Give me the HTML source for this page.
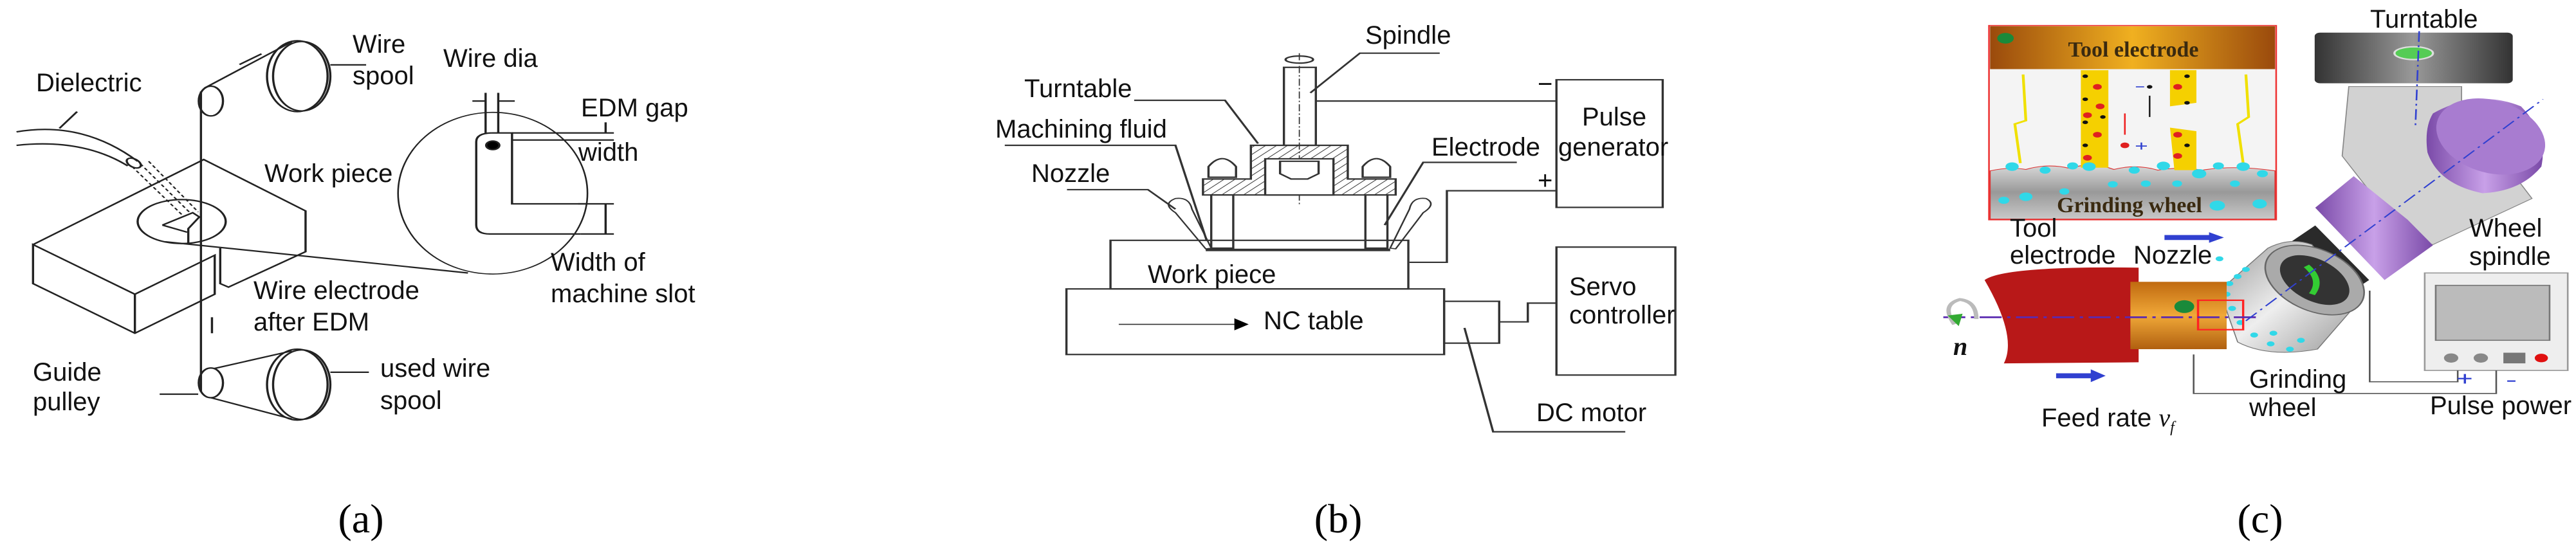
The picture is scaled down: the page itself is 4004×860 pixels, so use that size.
<!DOCTYPE html>
<html><head><meta charset="utf-8"><style>
html,body{margin:0;padding:0;background:#fff;}
#c{position:relative;width:4004px;height:860px;overflow:hidden;background:#fff;}
svg.p{position:absolute;top:0;}
.t{position:absolute;font-family:"Liberation Sans",sans-serif;font-size:40px;line-height:42px;color:#111;white-space:nowrap;}
.cap{position:absolute;font-family:"Liberation Serif",serif;font-size:64px;line-height:70px;color:#000;width:200px;text-align:center;}
.ins{position:absolute;font-family:"Liberation Serif",serif;font-weight:bold;font-size:34px;line-height:36px;color:#3a2a10;white-space:nowrap;transform:translateX(-50%);}
</style></head><body><div id="c">

<!-- Panel A -->
<svg class="p" style="left:0" width="1335" height="860" viewBox="0 0 1560 1560" preserveAspectRatio="none">
<g fill="none" stroke="#222" stroke-width="4">
<path d="M30,372 Q150,340 250,455"/><path d="M30,410 Q150,390 232,468"/>
<ellipse cx="243" cy="460" rx="10" ry="16" transform="rotate(-40 243 460)"/>
<path d="M108,362 L140,315"/>
<path d="M255,462 L345,600 M270,455 L360,598 M240,470 L330,605" stroke-dasharray="8,6" stroke-width="3"/>
<path d="M60,690 L370,450 L555,595 L555,710 L415,810 L400,800 L400,700"/>
<path d="M60,690 L60,800 L245,940 L390,830 L390,720 L245,830 Z"/>
<path d="M245,830 L245,940"/>
<path d="M295,635 L350,600 L362,612 L342,645 L342,690 M295,635 L340,655"/>
<ellipse cx="330" cy="625" rx="80" ry="62"/>
<path d="M300,682 L850,770"/>
<ellipse cx="895" cy="545" rx="172" ry="228" stroke-width="3"/>
<path d="M865,400 Q865,375 895,375 L930,375 L930,575 L1065,575"/>
<path d="M865,400 L865,635 Q865,660 890,660 L1055,660"/>
<circle cx="895" cy="410" r="12" fill="#000"/>
<path d="M882,262 L882,375 M905,262 L905,375 M858,285 L882,285 M905,285 L935,285"/>
<path d="M930,375 L1115,375 M930,395 L1115,395 M1100,345 L1100,375"/>
<path d="M1050,575 L1115,575 M1055,660 L1115,660 M1100,575 L1100,660"/>
<path d="M365,1105 L365,258"/>
<ellipse cx="383" cy="285" rx="22" ry="42"/>
<path d="M372,248 L530,118"/>
<ellipse cx="540" cy="215" rx="55" ry="100"/><ellipse cx="548" cy="215" rx="52" ry="98"/>
<path d="M600,183 L665,183 M435,182 L475,152"/>
<ellipse cx="383" cy="1080" rx="22" ry="42"/><ellipse cx="540" cy="1085" rx="55" ry="100"/><ellipse cx="548" cy="1085" rx="52" ry="98"/>
<path d="M388,1040 L530,990 M383,1122 L530,1182 M600,1050 L670,1050 M290,1112 L360,1112 M385,895 L385,940"/>
</g>
</svg>
<div class="t" style="left:56px;top:108px">Dielectric</div>
<div class="t" style="left:548px;top:48px">Wire</div>
<div class="t" style="left:548px;top:97px">spool</div>
<div class="t" style="left:689px;top:70px">Wire dia</div>
<div class="t" style="left:903px;top:147px">EDM gap</div>
<div class="t" style="left:899px;top:216px">width</div>
<div class="t" style="left:411px;top:249px">Work piece</div>
<div class="t" style="left:856px;top:387px">Width of</div>
<div class="t" style="left:856px;top:436px">machine slot</div>
<div class="t" style="left:394px;top:431px">Wire electrode</div>
<div class="t" style="left:394px;top:480px">after EDM</div>
<div class="t" style="left:51px;top:558px">Guide</div>
<div class="t" style="left:51px;top:604px">pulley</div>
<div class="t" style="left:591px;top:552px">used wire</div>
<div class="t" style="left:591px;top:602px">spool</div>
<div class="cap" style="left:461px;top:772px">(a)</div>

<!-- Panel B -->
<svg class="p" style="left:1335px" width="1335" height="860" viewBox="0 0 1560 1560" preserveAspectRatio="none">
<defs><pattern id="h" width="14" height="14" patternUnits="userSpaceOnUse" patternTransform="rotate(45)"><line x1="0" y1="0" x2="0" y2="14" stroke="#333" stroke-width="3"/></pattern></defs>
<g fill="none" stroke="#333" stroke-width="4">
<rect x="772" y="190" width="58" height="220" fill="#fff"/>
<ellipse cx="800" cy="168" rx="25" ry="10"/>
<path d="M800,150 L800,580" stroke-dasharray="20,6,4,6" stroke-width="2"/>
<path d="M820,262 L910,150 L1055,150 M500,283 L665,283 L725,405"/>
<path d="M712,410 L888,410 L888,505 L975,505 L975,550 L625,550 L625,505 L712,505 Z" fill="url(#h)"/>
<rect x="738" y="448" width="124" height="102" fill="#fff"/>
<path d="M765,455 L835,455 L835,490 L815,505 L785,505 L765,490 Z" fill="#fff"/>
<path d="M635,470 Q660,425 685,470 L685,500 L635,500 Z M915,470 Q940,425 965,470 L965,500 L915,500 Z" fill="#fff"/>
<rect x="640" y="550" width="40" height="150" fill="#fff"/><rect x="920" y="550" width="40" height="150" fill="#fff"/>
<path d="M575,600 Q550,575 575,560 Q600,555 605,590 L640,700 L630,702 Z" fill="#fff" stroke-width="3"/>
<path d="M1025,600 Q1050,575 1030,560 Q1005,555 1000,590 L965,700 L975,702 Z" fill="#fff" stroke-width="3"/>
<path d="M265,410 L575,410 L632,680 M378,535 L525,535 L575,590 M1195,458 L1025,458 L955,635"/>
<rect x="457" y="678" width="541" height="137"/>
<path d="M630,705 L965,705" stroke-width="7"/>
<rect x="377" y="815" width="686" height="185"/>
<rect x="1063" y="850" width="100" height="118"/>
<rect x="1267" y="225" width="193" height="360"/>
<rect x="1267" y="697" width="216" height="361"/>
<path d="M830,285 L1267,285 M1000,740 L1068,740 L1068,538 L1267,538 M1163,908 L1215,908 L1215,855 L1267,855 M1100,925 L1152,1218 L1392,1218"/>
<path d="M472,915 L685,915" stroke-width="3"/>
</g>
<path d="M682,898 L708,915 L682,932 Z" fill="#000"/>
</svg>
<div class="t" style="left:2122px;top:34px">Spindle</div>
<div class="t" style="left:1592px;top:117px">Turntable</div>
<div class="t" style="left:1547px;top:180px">Machining fluid</div>
<div class="t" style="left:1603px;top:249px">Nozzle</div>
<div class="t" style="left:2225px;top:208px">Electrode</div>
<div class="t" style="left:2459px;top:161px">Pulse</div>
<div class="t" style="left:2422px;top:208px">generator</div>
<div class="t" style="left:1784px;top:406px">Work piece</div>
<div class="t" style="left:1964px;top:478px">NC table</div>
<div class="t" style="left:2439px;top:425px">Servo</div>
<div class="t" style="left:2439px;top:469px">controller</div>
<div class="t" style="left:2388px;top:621px">DC motor</div>
<div class="t" style="left:2390px;top:110px">−</div>
<div class="t" style="left:2390px;top:260px">+</div>
<div class="cap" style="left:1980px;top:772px">(b)</div>

<!-- Panel C -->
<svg class="p" style="left:2670px" width="1334" height="860" viewBox="0 0 1560 1560" preserveAspectRatio="none">
<defs>
<linearGradient id="br" x1="0" x2="1"><stop offset="0" stop-color="#9a4a0c"/><stop offset="0.5" stop-color="#f0b020"/><stop offset="1" stop-color="#9a4a0c"/></linearGradient>
<linearGradient id="gr" x1="0" y1="0" x2="0" y2="1"><stop offset="0" stop-color="#d8d8d8"/><stop offset="0.5" stop-color="#999"/><stop offset="1" stop-color="#c8c8c8"/></linearGradient>
<linearGradient id="gw" x1="0" y1="0" x2="1" y2="1"><stop offset="0" stop-color="#999"/><stop offset="0.5" stop-color="#eee"/><stop offset="1" stop-color="#999"/></linearGradient>
<linearGradient id="dk" x1="0" x2="1"><stop offset="0" stop-color="#333"/><stop offset="0.5" stop-color="#999"/><stop offset="1" stop-color="#333"/></linearGradient>
<linearGradient id="pu" x1="0" x2="1"><stop offset="0" stop-color="#7a4aa8"/><stop offset="0.5" stop-color="#c8a0e8"/><stop offset="1" stop-color="#7a4aa8"/></linearGradient>
<linearGradient id="or" x1="0" y1="0" x2="0" y2="1"><stop offset="0" stop-color="#c06a10"/><stop offset="0.5" stop-color="#f0a838"/><stop offset="1" stop-color="#b06010"/></linearGradient>
</defs>
<rect x="493" y="72" width="522" height="548" fill="#f4f4f4" stroke="#e33" stroke-width="3"/>
<rect x="495" y="74" width="518" height="121" fill="url(#br)"/>
<path d="M495,482 Q530,470 560,478 Q600,460 640,475 Q680,455 720,478 Q760,462 800,480 Q840,470 880,480 Q940,465 1013,482 L1013,618 L495,618 Z" fill="url(#gr)" stroke="#d33" stroke-width="2"/>
<rect x="660" y="198" width="50" height="275" fill="#f5d000"/>
<path d="M822,198 L870,198 L870,290 L822,300 Z M822,360 L870,370 L870,480 L830,480 Z" fill="#f5d000"/>
<g fill="#111"><circle cx="668" cy="215" r="5"/><circle cx="668" cy="280" r="5"/><circle cx="668" cy="345" r="5"/><circle cx="668" cy="410" r="5"/><circle cx="700" cy="330" r="5"/><circle cx="853" cy="215" r="5"/><circle cx="853" cy="290" r="5"/><circle cx="853" cy="410" r="5"/><circle cx="785" cy="245" r="5"/></g>
<g fill="#e02020"><circle cx="690" cy="245" r="8"/><circle cx="695" cy="300" r="8"/><circle cx="672" cy="325" r="8"/><circle cx="690" cy="380" r="8"/><circle cx="672" cy="445" r="8"/><circle cx="836" cy="245" r="8"/><circle cx="836" cy="380" r="8"/><circle cx="836" cy="440" r="8"/><circle cx="740" cy="410" r="8"/></g>
<path d="M785,270 L785,330" stroke="#222" stroke-width="3"/>
<path d="M740,320 L740,380" stroke="#e22" stroke-width="3"/>
<path d="M760,245 L775,245 M760,412 L780,412 M770,402 L770,422" stroke="#3040d0" stroke-width="3"/>
<path d="M555,210 L560,340 L540,350 L550,460 M960,210 L965,330 L945,350 L955,460" stroke="#f0e000" stroke-width="5" fill="none"/>
<g fill="#30d8e8"><circle cx="535" cy="470" r="12"/><circle cx="595" cy="480" r="10"/><circle cx="645" cy="468" r="10"/><circle cx="675" cy="470" r="12"/><circle cx="757" cy="480" r="10"/><circle cx="810" cy="468" r="12"/><circle cx="875" cy="490" r="13"/><circle cx="910" cy="468" r="10"/><circle cx="955" cy="470" r="12"/><circle cx="990" cy="490" r="10"/><circle cx="630" cy="540" r="9"/><circle cx="718" cy="520" r="9"/><circle cx="778" cy="518" r="9"/><circle cx="835" cy="518" r="9"/><circle cx="940" cy="518" r="9"/><circle cx="520" cy="565" r="10"/><circle cx="560" cy="555" r="12"/><circle cx="908" cy="580" r="14"/><circle cx="985" cy="575" r="13"/></g>
<circle cx="523" cy="108" r="15" fill="#1a8a3a"/>
<path d="M1147,244 L1352,244 L1352,300 L1480,560 L1300,690 L1254,676 L1135,440 Z" fill="#d2d2d2" stroke="#888" stroke-width="2"/>
<path d="M1156,497 L1254,620 L1300,692 L1212,790 L1086,586 Z" fill="url(#pu)"/>
<path d="M1025,700 L1086,636 L1184,790 L1120,855 Z" fill="#2a2a2a"/>
<path d="M1300,320 Q1380,250 1460,300 Q1510,380 1497,470 Q1460,540 1390,545 Q1310,520 1290,430 Q1284,360 1300,320 Z" fill="url(#pu)"/>
<ellipse cx="1405" cy="385" rx="90" ry="115" transform="rotate(-35 1405 385)" fill="#a87cd0"/>
<rect x="1085" y="92" width="360" height="143" rx="10" fill="url(#dk)"/>
<ellipse cx="1265" cy="150" rx="35" ry="18" fill="#5c5" stroke="#ddd" stroke-width="4"/>
<path d="M912,820 L1000,700 Q1040,668 1080,690 L1160,860 L1090,985 Q1000,1010 945,965 Z" fill="url(#gw)" stroke="#777" stroke-width="2"/>
<ellipse cx="1085" cy="790" rx="75" ry="110" transform="rotate(-38 1085 790)" fill="#aaa" stroke="#666" stroke-width="3"/>
<ellipse cx="1085" cy="790" rx="50" ry="80" transform="rotate(-38 1085 790)" fill="#333"/>
<path d="M1070,750 Q1100,790 1080,830" stroke="#3c3" stroke-width="12" fill="none"/>
<g fill="#30d8e8"><circle cx="930" cy="800" r="7"/><circle cx="925" cy="830" r="7"/><circle cx="935" cy="870" r="7"/><circle cx="950" cy="910" r="7"/><circle cx="975" cy="945" r="7"/><circle cx="1005" cy="970" r="7"/><circle cx="1040" cy="985" r="7"/><circle cx="945" cy="780" r="7"/><circle cx="960" cy="760" r="7"/><circle cx="912" cy="730" r="7"/><circle cx="1010" cy="940" r="7"/><circle cx="1060" cy="960" r="7"/></g>
<path d="M485,790 Q520,750 765,755 L765,1022 L520,1025 Q545,950 485,790 Z" fill="#b81818"/>
<rect x="750" y="795" width="175" height="190" fill="url(#or)"/>
<circle cx="848" cy="865" r="18" fill="#1a8a3a"/>
<rect x="873" y="847" width="82" height="83" fill="none" stroke="#f22" stroke-width="4"/>
<path d="M410,895 L980,895" stroke="#5a2ab0" stroke-width="5" stroke-dasharray="40,10,6,10"/>
<path d="M960,905 L1500,280 M1275,88 L1268,360" stroke="#3040d0" stroke-width="3" stroke-dasharray="30,10,5,10"/>
<rect x="1285" y="770" width="260" height="275" fill="#eee" stroke="#999" stroke-width="3"/>
<rect x="1305" y="805" width="207" height="155" fill="#bbb" stroke="#777" stroke-width="3"/>
<circle cx="1333" cy="1010" r="13" fill="#888"/><circle cx="1387" cy="1010" r="13" fill="#888"/><circle cx="1497" cy="1010" r="12" fill="#e01010"/>
<rect x="1428" y="995" width="40" height="30" fill="#777"/>
<path d="M865,1000 L865,1110 L1415,1110 L1415,1045 M1185,820 L1185,1077 L1345,1077 L1345,1045" stroke="#555" stroke-width="3" fill="none"/>
<path d="M615,1060 L680,1060" stroke="#3040d0" stroke-width="14"/><path d="M678,1042 L705,1060 L678,1078 Z" fill="#3040d0"/>
<path d="M812,670 L895,670" stroke="#3040d0" stroke-width="14"/><path d="M893,655 L920,670 L893,685 Z" fill="#3040d0"/>
<path d="M430,915 Q405,860 440,845 Q470,850 470,900" stroke="#bbb" stroke-width="8" fill="none"/><path d="M418,890 L438,920 L445,885 Z" fill="#3a3"/>
<path d="M1345,1068 L1370,1068 M1358,1055 L1358,1082 M1435,1075 L1450,1075" stroke="#3040d0" stroke-width="4"/>
</svg>
<div class="ins" style="left:3316px;top:60px">Tool electrode</div>
<div class="ins" style="left:3310px;top:302px">Grinding wheel</div>
<div class="t" style="left:3684px;top:9px">Turntable</div>
<div class="t" style="left:3124px;top:334px">Tool</div>
<div class="t" style="left:3124px;top:376px">electrode</div>
<div class="t" style="left:3316px;top:376px">Nozzle</div>
<div class="t" style="left:3838px;top:334px">Wheel</div>
<div class="t" style="left:3838px;top:378px">spindle</div>
<div class="t" style="left:3496px;top:569px">Grinding</div>
<div class="t" style="left:3496px;top:613px">wheel</div>
<div class="t" style="left:3777px;top:610px">Pulse power</div>
<div class="t" style="left:3173px;top:629px">Feed rate <i style="font-family:'Liberation Serif',serif">v<sub style="font-size:24px">f</sub></i></div>
<div class="t" style="left:3036px;top:518px;font-family:'Liberation Serif',serif;font-style:italic;font-weight:bold">n</div>
<div class="cap" style="left:3413px;top:772px">(c)</div>

</div></body></html>
